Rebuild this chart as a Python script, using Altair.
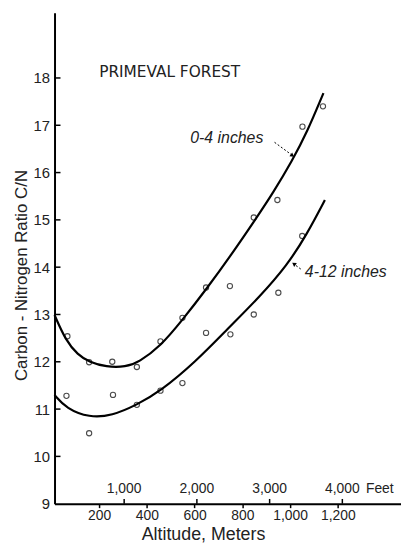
import altair as alt
import pandas as pd

# ---- data ----
upper_alt = [67, 158, 255, 358, 457, 549, 648, 748, 848, 947, 1052, 1138]
upper_cn = [12.54, 11.99, 12.0, 11.89, 12.43, 12.93, 13.57, 13.6, 15.05, 15.42, 16.97, 17.4]
lower_alt = [63, 158, 258, 358, 457, 549, 648, 750, 848, 951, 1051]
lower_cn = [11.28, 10.49, 11.3, 11.09, 11.39, 11.55, 12.61, 12.58, 13.0, 13.46, 14.66]

upper_curve_alt = [13, 60, 110, 160, 229, 312, 366, 457, 544, 656, 752, 851, 930, 1009, 1071, 1140]
upper_curve_cn = [12.99, 12.45, 12.15, 11.99, 11.89, 11.89, 11.99, 12.33, 12.85, 13.58, 14.25,
                  14.98, 15.58, 16.25, 16.85, 17.68]
lower_curve_alt = [13, 63, 159, 254, 358, 457, 602, 739, 872, 988, 1071, 1146]
lower_curve_cn = [11.30, 11.01, 10.82, 10.86, 11.09, 11.38, 11.99, 12.70, 13.37, 14.04, 14.70, 15.42]

meter_ticks = [200, 400, 600, 800, 1000, 1200]
feet_ticks = [1000, 2000, 3000, 4000]
feet_labels = ["1,000", "2,000", "3,000", "4,000"]
y_ticks = [9, 10, 11, 12, 13, 14, 15, 16, 17, 18]

X_DOMAIN = [13, 1465]
Y_DOMAIN = [9, 19.38]
FONT = "Liberation Sans, Arial, sans-serif"

pts = pd.DataFrame({
    "alt": upper_alt + lower_alt,
    "cn": upper_cn + lower_cn,
    "series": ["0-4"] * len(upper_alt) + ["4-12"] * len(lower_alt),
})
curves = pd.DataFrame({
    "alt": upper_curve_alt + lower_curve_alt,
    "cn": upper_curve_cn + lower_curve_cn,
    "series": ["0-4"] * len(upper_curve_alt) + ["4-12"] * len(lower_curve_alt),
})

xs = alt.Scale(domain=X_DOMAIN, nice=False, zero=False)
ys = alt.Scale(domain=Y_DOMAIN, nice=False, zero=False)

x_axis = alt.Axis(values=meter_ticks, format=",.0f", grid=False, tickSize=4, tickColor="black",
                  tickWidth=1.5, domainColor="black", domainWidth=2, labelFontSize=14,
                  labelFont=FONT, labelColor="#222", labelPadding=1,
                  title="Altitude, Meters", titleFont=FONT, titleFontSize=18,
                  titleFontWeight="normal", titleColor="#222",
                  titleX=150, titleY=22, titleAlign="center", titleBaseline="top")
y_axis = alt.Axis(values=y_ticks, grid=False, ticks=False, domainColor="black", domainWidth=2,
                  labelFontSize=15, labelFont=FONT, labelColor="#222", labelPadding=5,
                  title="Carbon - Nitrogen Ratio C/N", titleFont=FONT, titleFontSize=17,
                  titleFontWeight="normal", titleColor="#222",
                  titleX=-33, titleY=265, titleAlign="center", titleBaseline="middle",
                  titleAngle=270)

base_x = alt.X("alt:Q", scale=xs, axis=x_axis)
base_y = alt.Y("cn:Q", scale=ys, axis=y_axis)

lines = alt.Chart(curves).mark_line(interpolate="basis", color="black", strokeWidth=2.2).encode(
    x=base_x, y=base_y, detail="series:N")

points = alt.Chart(pts).mark_point(shape="circle", size=28, filled=False, color="black",
                                   strokeWidth=1.1).encode(
    x=alt.X("alt:Q", scale=xs), y=alt.Y("cn:Q", scale=ys))

# inward y ticks
ytick_df = pd.DataFrame({"cn": y_ticks[1:], "x0": [13] * 9, "x1": [38] * 9})
yticks = alt.Chart(ytick_df).mark_rule(color="black", strokeWidth=1.5).encode(
    x=alt.X("x0:Q", scale=xs), x2="x1:Q", y=alt.Y("cn:Q", scale=ys))

# feet scale (inside plot, above axis)
feet_df = pd.DataFrame({"ft": feet_ticks, "label": feet_labels})
feet_df["m"] = feet_df["ft"] * 0.3048
feet_df["y0"] = 9.0
feet_df["y1"] = 9.1
feet_df["ylab"] = 9.31
feet_ticks_mark = alt.Chart(feet_df).mark_rule(color="black", strokeWidth=1.5).encode(
    x=alt.X("m:Q", scale=xs), y=alt.Y("y0:Q", scale=ys), y2="y1:Q")
feet_text = alt.Chart(feet_df).mark_text(font=FONT, fontSize=14, color="#222",
                                         baseline="middle", align="center").encode(
    x=alt.X("m:Q", scale=xs), y=alt.Y("ylab:Q", scale=ys), text="label:N")
feet_word = alt.Chart(pd.DataFrame({"m": [1318], "y": [9.31], "t": ["Feet"]})).mark_text(
    font=FONT, fontSize=14, color="#222", baseline="middle", align="left").encode(
    x=alt.X("m:Q", scale=xs), y=alt.Y("y:Q", scale=ys), text="t:N")

# titles / annotations
title_df = pd.DataFrame({"m": [200], "y": [18.12], "t": ["PRIMEVAL FOREST"]})
title_txt = alt.Chart(title_df).mark_text(font="DejaVu Sans", fontSize=15.5, color="#222",
                                          baseline="middle", align="left").encode(
    x=alt.X("m:Q", scale=xs), y=alt.Y("y:Q", scale=ys), text="t:N")

ann_df = pd.DataFrame({"m": [582, 1062], "y": [16.72, 13.9], "t": ["0-4 inches", "4-12 inches"]})
ann_txt = alt.Chart(ann_df).mark_text(font=FONT, fontSize=16, fontStyle="italic", color="#222",
                                      baseline="middle", align="left").encode(
    x=alt.X("m:Q", scale=xs), y=alt.Y("y:Q", scale=ys), text="t:N")

arrow_df = pd.DataFrame({"x0": [935, 1045], "x1": [1008, 1018],
                         "y0": [16.64, 13.96], "y1": [16.37, 14.06]})
arrow_lines = alt.Chart(arrow_df).mark_rule(color="black", strokeWidth=1, strokeDash=[2, 2]).encode(
    x=alt.X("x0:Q", scale=xs), x2="x1:Q", y=alt.Y("y0:Q", scale=ys), y2="y1:Q")
head_df = pd.DataFrame({"x": [1010, 1016], "y": [16.36, 14.07], "ang": [36, 215]})
arrow_heads = alt.Chart(head_df).mark_point(shape="triangle-right", filled=True, color="black",
                                            size=22, opacity=1).encode(
    x=alt.X("x:Q", scale=xs), y=alt.Y("y:Q", scale=ys), angle=alt.Angle("ang:Q", scale=None))

chart = alt.layer(lines, points, yticks, feet_ticks_mark, feet_text, feet_word, title_txt,
                  ann_txt, arrow_lines, arrow_heads).properties(
    width=350, height=496,
    autosize=alt.AutoSizeParams(type="none"),
    padding={"left": 47, "top": 2, "right": 0, "bottom": 40},
    background="white",
).configure_view(stroke=None)

chart.save("out.html", embed_options={"renderer": "svg", "actions": False})
